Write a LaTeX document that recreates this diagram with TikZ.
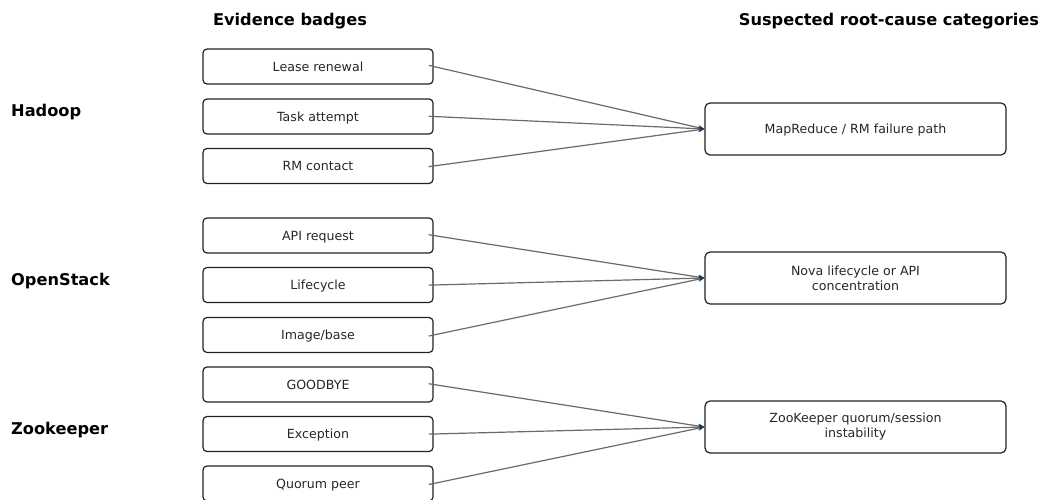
\documentclass[tikz,border=0pt]{standalone}
\usepackage{fontspec}
\setmainfont{DejaVu Sans}
\usetikzlibrary{arrows.meta}
\definecolor{boxline}{HTML}{222222}
\definecolor{conn}{HTML}{6A6A6A}
\definecolor{tipc}{HTML}{1B3550}
\begin{document}
\begin{tikzpicture}[x=1pt,y=-1pt,
  badge/.style={draw=boxline,line width=1.2pt,rounded corners=4pt,minimum width=230pt,minimum height=35pt,inner sep=0pt,text height=9.2pt,text depth=0pt,font=\fontsize{12.6}{15}\selectfont,text=black!85},
  cat/.style={draw=boxline,line width=1.2pt,rounded corners=5pt,minimum width=301pt,minimum height=52pt,inner sep=0pt,align=center,font=\fontsize{12.6}{15}\selectfont,text=black!85},
  oneline/.style={text height=9.2pt,text depth=0pt},
  hdr/.style={font=\fontsize{16.2}{19}\selectfont\bfseries,text=black,inner sep=0pt,anchor=base},
  grp/.style={font=\fontsize{16.2}{19}\selectfont\bfseries,text=black,inner sep=0pt,anchor=base west},
  link/.style={draw=conn,line width=1.2pt,shorten <=-5pt,-{Stealth[length=6pt,width=5pt,color=tipc]}}]
\useasboundingbox (0,0) rectangle (1045,500);
\node[hdr] (h1) at (290,26) {Evidence badges};
\node[hdr] (h2) at (889,26) {Suspected root-cause categories};
\node[grp] (g1) at (11,116.5) {Hadoop};
\node[grp] (g2) at (11,285) {OpenStack};
\node[grp] (g3) at (11,434) {Zookeeper};
\node[badge] (b1) at (318,66.5) {Lease renewal};
\node[badge] (b2) at (318,116.5) {Task attempt};
\node[badge] (b3) at (318,166) {RM contact};
\node[badge] (b4) at (318,235.5) {API request};
\node[badge] (b5) at (318,285) {Lifecycle};
\node[badge] (b6) at (318,335) {Image/base};
\node[badge] (b7) at (318,384.5) {GOODBYE};
\node[badge] (b8) at (318,434) {Exception};
\node[badge] (b9) at (318,483.5) {Quorum peer};
\node[cat,oneline] (c1) at (855.5,129) {MapReduce / RM failure path};
\node[cat] (c2) at (855.5,278) {Nova lifecycle or API\\concentration};
\node[cat] (c3) at (855.5,427) {ZooKeeper quorum/session\\instability};
\foreach \b in {b1,b2,b3} \draw[link] (\b.east) -- (c1.west);
\foreach \b in {b4,b5,b6} \draw[link] (\b.east) -- (c2.west);
\foreach \b in {b7,b8,b9} \draw[link] (\b.east) -- (c3.west);
\end{tikzpicture}
\end{document}
